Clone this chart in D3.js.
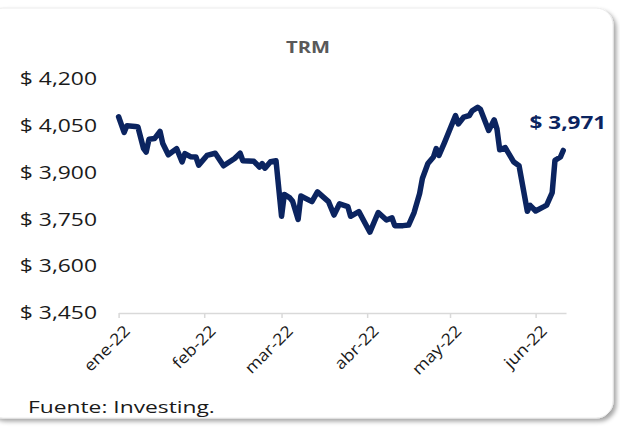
<!DOCTYPE html>
<html>
<head>
<meta charset="utf-8">
<script src="https://cdn.jsdelivr.net/npm/d3@7"></script>
<style>
  html, body { margin: 0; padding: 0; background: #fff; }
  svg { display: block; font-family: "Open Sans", "Noto Sans", sans-serif; }
</style>
</head>
<body>
<svg id="chart" width="620" height="427"></svg>
<script>
// TRM diaria (COP por USD)
var fechas = [
  "2022-01-01", "2022-01-03", "2022-01-04", "2022-01-07", "2022-01-08", "2022-01-10",
  "2022-01-11", "2022-01-12", "2022-01-14", "2022-01-16", "2022-01-17", "2022-01-19",
  "2022-01-22", "2022-01-24", "2022-01-25", "2022-01-27", "2022-01-29", "2022-01-30",
  "2022-02-02", "2022-02-05", "2022-02-08", "2022-02-12", "2022-02-14", "2022-02-15",
  "2022-02-19", "2022-02-21", "2022-02-22", "2022-02-23", "2022-02-25", "2022-02-27",
  "2022-03-01", "2022-03-02", "2022-03-04", "2022-03-05", "2022-03-07", "2022-03-08",
  "2022-03-12", "2022-03-14", "2022-03-18", "2022-03-20", "2022-03-22", "2022-03-25",
  "2022-03-26", "2022-03-29",
  "2022-04-02", "2022-04-05", "2022-04-08", "2022-04-10", "2022-04-11", "2022-04-14",
  "2022-04-16", "2022-04-18", "2022-04-20", "2022-04-21", "2022-04-23", "2022-04-25",
  "2022-04-26", "2022-04-27", "2022-04-29",
  "2022-05-03", "2022-05-04", "2022-05-06", "2022-05-08", "2022-05-09", "2022-05-11",
  "2022-05-12", "2022-05-15", "2022-05-17", "2022-05-18", "2022-05-19", "2022-05-21",
  "2022-05-24", "2022-05-26", "2022-05-29", "2022-05-30",
  "2022-06-01", "2022-06-04", "2022-06-05", "2022-06-07", "2022-06-08", "2022-06-10",
  "2022-06-11"
];
var trm = [
  4079, 4029, 4050, 4048, 4046, 3978, 3966, 4007, 4009, 4032, 3993, 3957,
  3977, 3934, 3961, 3951, 3950, 3924,
  3955, 3962, 3922, 3945, 3962, 3938, 3936, 3918, 3929, 3914, 3935, 3938,
  3760, 3830, 3819, 3808, 3750, 3825, 3807, 3838, 3807, 3764, 3800, 3791,
  3760, 3775,
  3709, 3772, 3748, 3755, 3730, 3730, 3732, 3772, 3833, 3881, 3929, 3950,
  3977, 3955, 3996,
  4083, 4056, 4078, 4083, 4098, 4109, 4103, 4035, 4069, 4040, 3973, 3980,
  3935, 3922, 3776, 3795,
  3777, 3791, 3796, 3836, 3939, 3950, 3971
];
var mesesTicks = ["2022-01-01", "2022-02-01", "2022-03-01", "2022-04-01", "2022-05-01", "2022-06-01"];
var mesesLabels = ["ene-22", "feb-22", "mar-22", "abr-22", "may-22", "jun-22"];
var yTicks = [3450, 3600, 3750, 3900, 4050, 4200];

var titulo = "TRM",
  fuente = "Fuente: Investing.",
  azul = "#0b2460",
  STRETCH = 1.27;

var parse = d3.timeParse("%Y-%m-%d"),
  serie = fechas.map(function (f, i) { return { fecha: parse(f), valor: trm[i] }; });

var svg = d3.select("#chart");

// estira el texto a lo ancho, como en la imagen original
var stretch = function (sel, k) {
  sel.each(function () {
    var w = this.getComputedTextLength();
    this.setAttribute("textLength", w * k);
    this.setAttribute("lengthAdjust", "spacingAndGlyphs");
  });
};

// tarjeta con sombra
var defs = svg.append("defs");
var sombra = defs.append("filter").attr("id", "sombra")
  .attr("x", "-5%").attr("y", "-5%").attr("width", "110%").attr("height", "110%");
sombra.append("feDropShadow")
  .attr("dx", 3).attr("dy", 3).attr("stdDeviation", 2)
  .attr("flood-color", "#000").attr("flood-opacity", 0.35);

svg.append("rect")
  .attr("x", -14).attr("y", 8)
  .attr("width", 627).attr("height", 410)
  .attr("rx", 17).attr("ry", 17)
  .attr("fill", "#fff")
  .attr("stroke", "#ececec")
  .attr("filter", "url(#sombra)");

// escalas
var x = d3.scaleTime()
  .domain([parse("2022-01-01"), parse("2022-06-12")])
  .range([118.6, 566]);
var y = d3.scaleLinear()
  .domain([3450, 4200])
  .range([313, 79]);

// titulo
svg.append("text")
  .attr("x", 308).attr("y", 53)
  .attr("text-anchor", "middle")
  .attr("font-size", 15.5)
  .attr("font-weight", "bold")
  .attr("fill", "#595959")
  .text(titulo)
  .call(stretch, 1.3);

// eje y (solo etiquetas)
var yAxis = svg.append("g")
  .attr("transform", "translate(97,0)")
  .call(d3.axisLeft(y).tickValues(yTicks).tickSize(0).tickPadding(0)
    .tickFormat(function (d) { return "$ " + d3.format(",")(d); }));
yAxis.select(".domain").remove();
yAxis.selectAll("text")
  .attr("font-family", "'Open Sans', sans-serif")
  .attr("font-size", 18)
  .attr("fill", "#1a1a1a")
  .call(stretch, STRETCH);

// eje x
var xAxis = svg.append("g")
  .attr("transform", "translate(0," + y(3450) + ")")
  .call(d3.axisBottom(x)
    .tickValues(mesesTicks.map(parse))
    .tickSize(5)
    .tickSizeOuter(0)
    .tickFormat(function (d, i) { return mesesLabels[i]; }));
xAxis.select(".domain").attr("stroke", "#d9d9d9").attr("stroke-width", 1.5);
xAxis.selectAll(".tick line").attr("stroke", "#d9d9d9").attr("stroke-width", 1.5);
xAxis.selectAll("text")
  .attr("font-family", "'Open Sans', sans-serif")
  .attr("font-size", 16)
  .attr("fill", "#1a1a1a")
  .attr("text-anchor", "end")
  .attr("dy", "0.35em")
  .attr("transform", "translate(8,15) rotate(-45)")
  .attr("y", 0)
  .attr("x", 0)
  .call(stretch, 1.12);

// linea
var linea = d3.line()
  .x(function (d) { return x(d.fecha); })
  .y(function (d) { return y(d.valor); });

svg.append("path")
  .datum(serie)
  .attr("d", linea)
  .attr("fill", "none")
  .attr("stroke", azul)
  .attr("stroke-width", 5.5)
  .attr("stroke-linejoin", "round")
  .attr("stroke-linecap", "round");

// etiqueta del ultimo dato
var ultimo = serie[serie.length - 1];
svg.append("text")
  .attr("x", x(ultimo.fecha) + 43)
  .attr("y", y(ultimo.valor) - 21)
  .attr("text-anchor", "end")
  .attr("font-size", 18)
  .attr("font-weight", "bold")
  .attr("fill", azul)
  .text("$ " + d3.format(",")(ultimo.valor))
  .call(stretch, 1.25);

// fuente
svg.append("text")
  .attr("x", 28).attr("y", 413)
  .attr("font-size", 17)
  .attr("fill", "#1a1a1a")
  .text(fuente)
  .call(stretch, 1.34);
</script>
</body>
</html>
